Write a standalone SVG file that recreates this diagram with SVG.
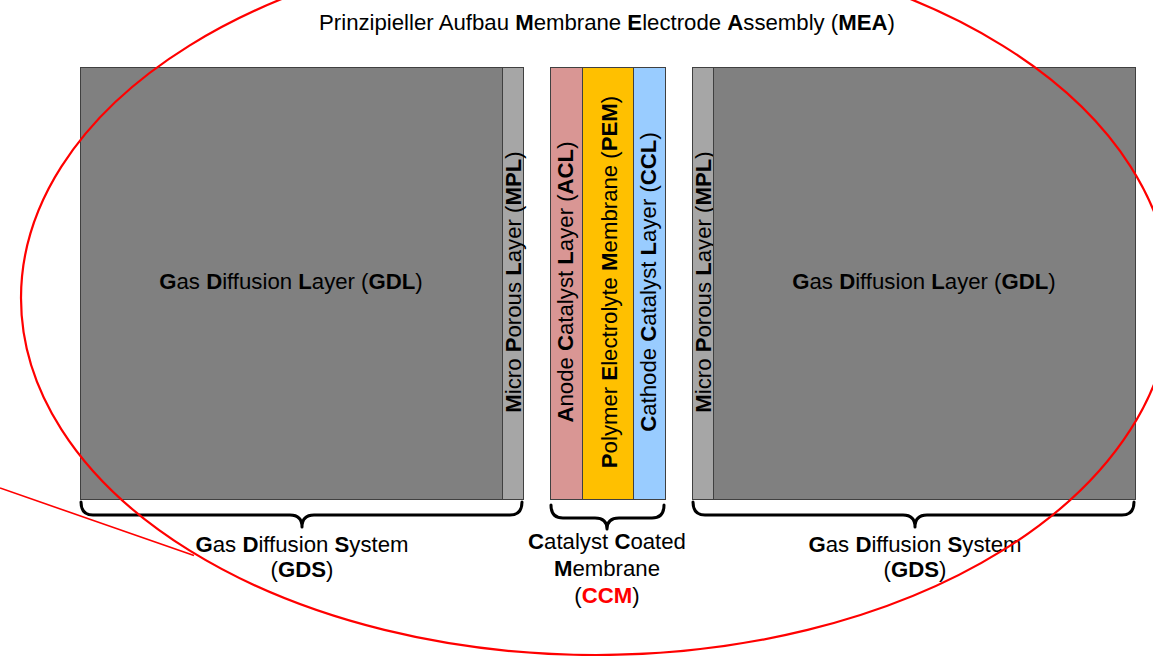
<svg xmlns="http://www.w3.org/2000/svg" width="1153" height="656" viewBox="0 0 1153 656">
<style>
text{font-family:"Liberation Sans",Arial,sans-serif;font-size:22.2px;fill:#000}
.b{font-weight:bold}
.r{fill:#FF0000}
.layer{stroke:#404040;stroke-width:1}
.gdl{fill:#808080}
.mpl{fill:#A6A6A6}
.brace{fill:none;stroke:#000;stroke-width:3;stroke-linecap:round;stroke-linejoin:round}
.red{fill:none;stroke:#FF0000}
</style>
<rect width="1153" height="656" fill="#fff"/>
<g id="title">
<text x="607" y="30" text-anchor="middle">Prinzipieller Aufbau <tspan class="b">M</tspan>embrane <tspan class="b">E</tspan>lectrode <tspan class="b">A</tspan>ssembly (<tspan class="b">MEA</tspan>)</text>
</g>
<g id="gdl-left">
<rect class="layer gdl" x="80.5" y="67.5" width="422" height="432"/>
<text x="291" y="289" text-anchor="middle"><tspan class="b">G</tspan>as <tspan class="b">D</tspan>iffusion <tspan class="b">L</tspan>ayer (<tspan class="b">GDL</tspan>)</text>
</g>
<g id="mpl-left">
<rect class="layer mpl" x="502.5" y="67.5" width="21" height="432"/>
<text transform="translate(521,282) rotate(-90)" text-anchor="middle"><tspan class="b">M</tspan>icro <tspan class="b">P</tspan>orous <tspan class="b">L</tspan>ayer (<tspan class="b">MPL</tspan>)</text>
</g>
<g id="acl">
<rect class="layer" fill="#D99694" x="550.5" y="67.5" width="32" height="432"/>
<text transform="translate(573,282) rotate(-90)" text-anchor="middle"><tspan class="b">A</tspan>node <tspan class="b">C</tspan>atalyst <tspan class="b">L</tspan>ayer (<tspan class="b">ACL</tspan>)</text>
</g>
<g id="pem">
<rect class="layer" fill="#FFC000" x="582.5" y="67.5" width="51" height="432"/>
<text transform="translate(617,282) rotate(-90)" text-anchor="middle"><tspan class="b">P</tspan>olymer <tspan class="b">E</tspan>lectrolyte <tspan class="b">M</tspan>embrane (<tspan class="b">PEM</tspan>)</text>
</g>
<g id="ccl">
<rect class="layer" fill="#99CCFF" x="633.5" y="67.5" width="32" height="432"/>
<text transform="translate(656,282) rotate(-90)" text-anchor="middle"><tspan class="b">C</tspan>athode <tspan class="b">C</tspan>atalyst <tspan class="b">L</tspan>ayer (<tspan class="b">CCL</tspan>)</text>
</g>
<g id="mpl-right">
<rect class="layer mpl" x="692.5" y="67.5" width="21" height="432"/>
<text transform="translate(711,282) rotate(-90)" text-anchor="middle"><tspan class="b">M</tspan>icro <tspan class="b">P</tspan>orous <tspan class="b">L</tspan>ayer (<tspan class="b">MPL</tspan>)</text>
</g>
<g id="gdl-right">
<rect class="layer gdl" x="713.5" y="67.5" width="422" height="432"/>
<text x="924" y="289" text-anchor="middle"><tspan class="b">G</tspan>as <tspan class="b">D</tspan>iffusion <tspan class="b">L</tspan>ayer (<tspan class="b">GDL</tspan>)</text>
</g>
<g id="connectors">
<path class="brace" d="M81,502 Q81,515 93,515 L290,515 Q302,515 302,527 Q302,515 314,515 L510,515 Q522,515 522,502"/>
<path class="brace" d="M551,505 Q551,518 563,518 L595,518 Q607,518 607,529 Q607,518 619,518 L652,518 Q664,518 664,505"/>
<path class="brace" d="M693,502 Q693,515 705,515 L903,515 Q915,515 915,527 Q915,515 927,515 L1122,515 Q1134,515 1134,502"/>
</g>
<g id="gds-left">
<text x="302" y="552" text-anchor="middle"><tspan class="b">G</tspan>as <tspan class="b">D</tspan>iffusion <tspan class="b">S</tspan>ystem</text>
<text x="302" y="577" text-anchor="middle">(<tspan class="b">GDS</tspan>)</text>
</g>
<g id="ccm">
<text x="607" y="549" text-anchor="middle"><tspan class="b">C</tspan>atalyst <tspan class="b">C</tspan>oated</text>
<text x="607" y="576" text-anchor="middle"><tspan class="b">M</tspan>embrane</text>
<text x="607" y="603" text-anchor="middle">(<tspan class="b r">CCM</tspan>)</text>
</g>
<g id="gds-right">
<text x="915" y="552" text-anchor="middle"><tspan class="b">G</tspan>as <tspan class="b">D</tspan>iffusion <tspan class="b">S</tspan>ystem</text>
<text x="915" y="577" text-anchor="middle">(<tspan class="b">GDS</tspan>)</text>
</g>
<g id="mea-outline">
<ellipse class="red" stroke-width="2.2" cx="596" cy="298" rx="575" ry="357"/>
<line class="red" stroke-width="1.6" x1="0" y1="488" x2="194" y2="555.5"/>
</g>
</svg>
